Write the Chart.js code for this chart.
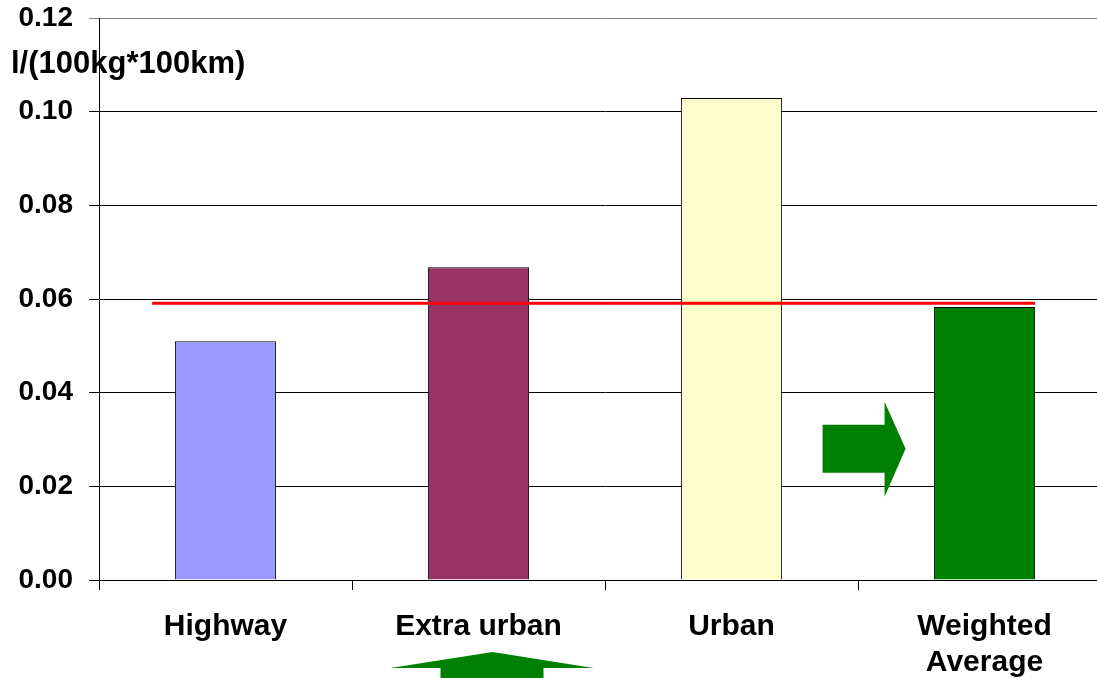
<!DOCTYPE html>
<html>
<head>
<meta charset="utf-8">
<script src="https://cdn.jsdelivr.net/npm/chart.js@4.4.1/dist/chart.umd.min.js"></script>
<style>
  html, body { margin: 0; padding: 0; background: #fff; overflow: hidden; }
  #wrap { width: 1115px; height: 678px; }
</style>
</head>
<body>
<div id="wrap"><canvas id="fuelChart"></canvas></div>
<script>
const categories = ['Highway', 'Extra urban', 'Urban', ['Weighted', 'Average']];
const consumption = [0.051, 0.0668, 0.1029, 0.0583];
const barColors = ['#9999ff', '#993366', '#ffffcc', '#008000'];
const averageLine = 0.0591;
const yTicks = [0, 0.02, 0.04, 0.06, 0.08, 0.10, 0.12];
const unitLabel = 'l/(100kg*100km)';

const FONT = 'Arial, "Liberation Sans", sans-serif';

// red average line, unit label and the two green arrows
const decorations = {
  id: 'decorations',
  afterDatasetsDraw(chart) {
    const { ctx, scales: { x, y } } = chart;
    const cat = x.getPixelForValue(1) - x.getPixelForValue(0);

    ctx.save();
    ctx.strokeStyle = '#ff0000';
    ctx.lineWidth = 3;
    ctx.beginPath();
    const yAvg = y.getPixelForValue(averageLine);
    ctx.moveTo(x.getPixelForValue(0) - cat * 0.29, yAvg);
    ctx.lineTo(x.getPixelForValue(3) + cat * 0.2, yAvg);
    ctx.stroke();

    ctx.fillStyle = '#008000';
    // right pointing arrow left of the last bar
    const ax = x.getPixelForValue(3) - cat * 0.64;
    const ay = y.getPixelForValue(0.028);
    ctx.beginPath();
    ctx.moveTo(ax, ay - 24);
    ctx.lineTo(ax + 62, ay - 24);
    ctx.lineTo(ax + 62, ay - 47);
    ctx.lineTo(ax + 83, ay);
    ctx.lineTo(ax + 62, ay + 48);
    ctx.lineTo(ax + 62, ay + 24);
    ctx.lineTo(ax, ay + 24);
    ctx.closePath();
    ctx.fill();

    // upward arrow below "Extra urban"
    const ux = x.getPixelForValue(1) + 14;
    const uy = 652;
    ctx.beginPath();
    ctx.moveTo(ux, uy);
    ctx.lineTo(ux + 101, uy + 16);
    ctx.lineTo(ux + 51, uy + 16);
    ctx.lineTo(ux + 51, uy + 40);
    ctx.lineTo(ux - 52, uy + 40);
    ctx.lineTo(ux - 52, uy + 16);
    ctx.lineTo(ux - 102, uy + 16);
    ctx.closePath();
    ctx.fill();

    ctx.fillStyle = '#000';
    ctx.font = 'bold 31px ' + FONT;
    ctx.textBaseline = 'middle';
    ctx.textAlign = 'left';
    ctx.fillText(unitLabel, 11, 64);
    ctx.restore();
  }
};

new Chart(document.getElementById('fuelChart'), {
  type: 'bar',
  data: {
    labels: categories,
    datasets: [{
      data: consumption,
      backgroundColor: barColors,
      borderColor: '#000',
      borderWidth: 1,
      barPercentage: 0.8,
      categoryPercentage: 0.5
    }]
  },
  options: {
    responsive: true,
    maintainAspectRatio: false,
    animation: false,
    layout: { padding: { top: 18, right: 4, left: 0, bottom: 0 } },
    plugins: {
      legend: { display: false },
      tooltip: { enabled: false }
    },
    scales: {
      x: {
        offset: true,
        grid: {
          offset: true,
          drawOnChartArea: false,
          drawTicks: true,
          tickLength: 10,
          color: '#000'
        },
        border: { color: '#000', width: 1 },
        ticks: {
          color: '#000',
          padding: 18,
          maxRotation: 0,
          autoSkip: false,
          font: { family: FONT, size: 30, weight: 'bold', lineHeight: 1.22 }
        },
        afterFit(scale) { scale.height = 98; }
      },
      y: {
        min: 0,
        max: 0.12,
        afterBuildTicks(scale) { scale.ticks = yTicks.map(v => ({ value: v })); },
        grid: {
          color: ctx => ctx.tick && ctx.tick.value >= 0.12 ? '#808080' : '#000',
          tickLength: 10,
          drawTicks: true
        },
        border: { color: '#000', width: 1 },
        ticks: {
          color: '#000',
          padding: 16,
          font: { family: FONT, size: 28, weight: 'bold' },
          callback: v => v.toFixed(2)
        },
        afterFit(scale) {
          scale.width = 99;
          scale.paddingTop = 0;
          scale.paddingBottom = 0;
        }
      }
    }
  },
  plugins: [decorations]
});
</script>
</body>
</html>
